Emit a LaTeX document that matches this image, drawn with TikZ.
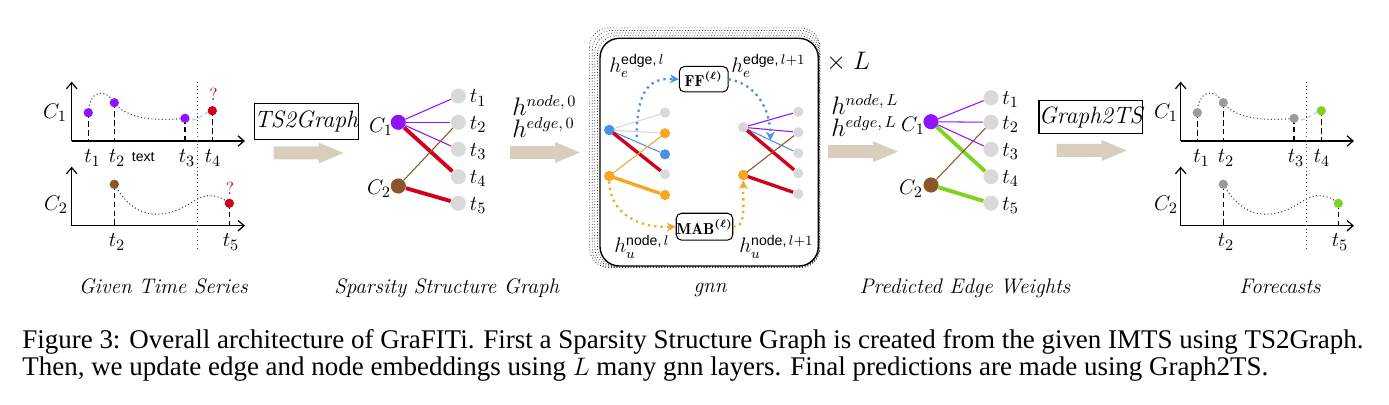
\documentclass[tikz,border=0pt]{standalone}
\usepackage{amsmath,amssymb}
\usepackage{fontspec}
\newfontfamily\capfont{Liberation Serif}
\newfontfamily\sansf{Liberation Sans}
\usetikzlibrary{arrows.meta,backgrounds}
\definecolor{cpurple}{HTML}{9013FE}
\definecolor{cbrown}{HTML}{8B572A}
\definecolor{cred}{HTML}{D0021B}
\definecolor{cgray}{HTML}{D9D9D9}
\definecolor{ctan}{HTML}{D8CEBE}
\definecolor{cgreen}{HTML}{7ED321}
\definecolor{cblue}{HTML}{4A90E2}
\definecolor{corange}{HTML}{F5A623}
\definecolor{cdark}{HTML}{9B9B9B}
\definecolor{clight}{HTML}{A9D8F2}
\definecolor{cedge}{HTML}{D6D6D6}
\tikzset{
  axisln/.style={line width=0.7pt,-{Straight Barb[length=3.5pt,width=6pt]}},
  vdash/.style={line width=0.8pt,dash pattern=on 3pt off 2pt},
  vdots/.style={line width=0.6pt,dash pattern=on 0.6pt off 1.6pt,black!70},
  tscurve/.style={line width=0.6pt,dash pattern=on 0.6pt off 1.4pt,black!75},
  tsdot/.style={circle,inner sep=0pt,minimum size=5.3pt},
  gdot/.style={circle,inner sep=0pt,minimum size=8.6pt},
  sdot/.style={circle,inner sep=0pt,minimum size=5.8pt},
  tl/.style={font=\fontsize{12.5}{14}\selectfont,inner sep=0pt},
  bcap/.style={font=\fontsize{12}{14}\selectfont\itshape,inner sep=0pt,anchor=base},
  ethin/.style={line width=0.6pt},
  ethick/.style={line width=2.2pt},
  gthick/.style={line width=1.9pt},
  tbox/.style={draw,line width=0.6pt,font=\fontsize{13.5}{15}\selectfont\itshape,inner sep=0pt,minimum height=20.4pt},
  mbox/.style={draw,line width=0.6pt,rounded corners=3pt,fill=white,inner sep=0pt,minimum width=27.8pt,minimum height=14.5pt,font=\fontsize{9}{10}\selectfont},
  flowb/.style={cblue,line width=1.3pt,dash pattern=on 1.3pt off 2.3pt,-{Stealth[length=5pt,width=5pt]}},
  flowo/.style={corange,line width=1.3pt,dash pattern=on 1.3pt off 2.3pt,-{Stealth[length=5pt,width=5pt]}},
  hl/.style={font=\fontsize{13.5}{15}\selectfont,inner sep=0pt,anchor=base west},
  gl/.style={font=\fontsize{12}{14}\selectfont,inner sep=0pt,anchor=base west},
  tanarr/.pic={\fill[ctan] (-35,-6.5) -- (10,-6.5) -- (10,-10.5) -- (35,0) -- (10,10.5) -- (10,6.5) -- (-35,6.5) -- cycle;}
}
\newcommand{\sfsup}[1]{\text{\sansf #1}}
\begin{document}
\begin{tikzpicture}[x=0.02cm,y=-0.02cm]
\useasboundingbox (0,0) rectangle (1389,405);

% ================= Panel 1: Given Time Series =================
\coordinate (o1) at (71.7,141);
\coordinate (o2) at (71.7,225.7);
\draw[axisln] (o1) -- (245,141);
\draw[axisln] (o1) -- (71.7,81.7);
\draw[axisln] (o2) -- (245,225.7);
\draw[axisln] (o2) -- (71.7,166.7);
\draw[vdots] (197.7,81.7) -- (197.7,251.7);
\node[tsdot,fill=cpurple] (p1) at (88.3,112.7) {};
\node[tsdot,fill=cpurple] (p2) at (114.3,102.7) {};
\node[tsdot,fill=cpurple] (p3) at (185,118.3) {};
\node[tsdot,fill=cred] (p4) at (212.3,110.7) {};
\node[tsdot,fill=cbrown] (q1) at (114.3,184.3) {};
\node[tsdot,fill=cred] (q2) at (229.3,203.3) {};
\begin{pgfonlayer}{background}
\draw[vdash] (p1.center) -- (p1 |- o1);
\draw[vdash] (p2.center) -- (p2 |- o1);
\draw[vdash] (p3.center) -- (p3 |- o1);
\draw[vdash] (p4.center) -- (p4 |- o1);
\draw[vdash] (q1.center) -- (q1 |- o2);
\draw[vdash] (q2.center) -- (q2 |- o2);
\draw[tscurve] (p1.center) .. controls (89,92) and (104,86) .. (p2.center) .. controls (126.7,120) and (160,121) .. (p3.center);
\draw[clight,line width=0.7pt,dash pattern=on 2.5pt off 1.5pt] (p3.center) .. controls (198,124) and (203,112) .. (p4.center);
\draw[tscurve] (q1.center) .. controls (128,208) and (145,218) .. (168,213) .. controls (188,209) and (200,192) .. (214,196) .. controls (222,198) .. (q2.center);
\end{pgfonlayer}
\node[tl] (c1a) at (55,113) {$C_1$};
\node[tl] (c2a) at (56,205) {$C_2$};
\node[tl] (t1a) at (92.5,158) {$t_1$};
\node[tl] (t2a) at (117,158) {$t_2$};
\node[tl,font=\sansf\fontsize{8}{9}\selectfont] (txa) at (143.3,157.5) {text};
\node[tl] (t3a) at (187,158) {$t_3$};
\node[tl] (t4a) at (213,158) {$t_4$};
\node[tl] (t2b) at (117,242) {$t_2$};
\node[tl] (t5b) at (231,242) {$t_5$};
\node[inner sep=0pt,text=cred,font=\fontsize{10}{11}\selectfont] (qa) at (213.5,94) {?};
\node[inner sep=0pt,text=cred,font=\fontsize{10}{11}\selectfont] (qb) at (230,188) {?};
\node[bcap] (cap1) at (163.3,294) {Given Time Series};

% ================= TS2Graph =================
\node[tbox,minimum width=59pt] (ts2g) at (306.2,121.3) {TS2Graph};
\pic at (308.5,153) {tanarr};

% ================= Panel 2: Sparsity Structure Graph =================
\node[gdot,fill=cpurple] (C1) at (398.3,122.3) {};
\node[gdot,fill=cbrown] (C2) at (398.3,186) {};
\foreach \i/\y in {1/96,2/122.3,3/149.3,4/176.7,5/203.3}{
  \node[gdot,fill=cgray] (s\i) at (458.3,\y) {};
  \node[tl,anchor=west] (sl\i) at (469.5,\y+2) {$t_{\i}$};
}
\begin{pgfonlayer}{background}
\draw[ethin,cpurple] (C1) -- (s1);
\draw[ethin,cpurple] (C1) -- (s2);
\draw[ethin,cpurple] (C1) -- (s3);
\draw[ethick,cred] (C1) -- (s4);
\draw[ethin,cbrown] (C2) -- (s2);
\draw[ethick,cred] (C2) -- (s5);
\end{pgfonlayer}
\node[tl] (C1l) at (381,127) {$C_1$};
\node[tl] (C2l) at (379,189) {$C_2$};
\node[bcap] (cap2) at (446.7,294) {Sparsity Structure Graph};
\node[hl] (h0a) at (512,116) {$h^{node,\,0}$};
\node[hl] (h0b) at (512,138) {$h^{edge,\,0}$};
\pic at (545,152.5) {tanarr};

% ================= Panel 3: gnn =================
\foreach \i in {4,3,2,1}{
  \draw[line width=0.4pt,black!80,dash pattern=on 0.5pt off 1.1pt] (600-2.6*\i,38.3-2.6*\i) [rounded corners=11pt] rectangle (818.3+0.4*\i,266+0.4*\i);
}
\draw[line width=0.8pt,fill=white,rounded corners=11pt] (600,38.3) rectangle (818.3,266);
% left graph
\node[sdot,fill=cblue] (L1) at (609.3,130) {};
\node[sdot,fill=corange] (L2) at (609.3,176) {};
\node[sdot,fill=cgray] (a1) at (665,112.7) {};
\node[sdot,fill=corange] (a2) at (665,133.3) {};
\node[sdot,fill=cblue] (a3) at (665,154.3) {};
\node[sdot,fill=cgray] (a4) at (665,174.3) {};
\node[sdot,fill=corange] (a5) at (665,195) {};
% right graph
\node[sdot,fill=cgray] (R1) at (743.3,127.3) {};
\node[sdot,fill=corange] (R2) at (743.3,175) {};
\node[sdot,fill=cgray] (b1) at (798.3,111.7) {};
\node[sdot,fill=cgray] (b2) at (798.3,132.3) {};
\node[sdot,fill=cgray] (b3) at (798.3,153.3) {};
\node[sdot,fill=cgray] (b4) at (798.3,173.3) {};
\node[sdot,fill=cgray] (b5) at (798.3,194) {};
\draw[ethin,cedge] (L1.center) -- (a1);
\draw[ethin,cedge] (L1.center) -- (a2);
\draw[ethin,cblue] (L1.center) -- (a3);
\draw[gthick,cred] (L1.center) -- (a4);
\draw[ethin,corange] (L2.center) -- (a2);
\draw[gthick,corange] (L2.center) -- (a5);
\draw[ethin,cpurple] (R1.center) -- (b1);
\draw[ethin,cpurple] (R1.center) -- (b2);
\draw[ethin,cblue] (R1.center) -- (b3);
\draw[gthick,cred] (R1.center) -- (b4);
\draw[ethin,cbrown] (R2.center) -- (b2);
\draw[gthick,cred] (R2.center) -- (b5);
\node[sdot,fill=cblue] (L1t) at (L1) {};
\node[sdot,fill=corange] (L2t) at (L2) {};
\node[sdot,fill=cgray] (R1t) at (R1) {};
\node[sdot,fill=corange] (R2t) at (R2) {};
% modules
\node[mbox] (FF) at (703.7,79.2) {$\mathbf{FF}^{\boldsymbol{(\ell)}}$};
\node[mbox,minimum height=15.3pt] (MAB) at (704.5,226.7) {$\mathbf{MAB}^{\boldsymbol{(\ell)}}$};
\coordinate (bs) at (636.7,137);
\coordinate (be) at (770.5,140.5);
\draw[flowb] (bs) .. controls (636.7,86) and (652,78) .. (FF.west);
\draw[flowb] (FF.east) .. controls (756,84) and (770,108) .. (be);
\draw[flowo] (L2.south) .. controls (610,216) and (642,228) .. (MAB.west);
\draw[flowo] (MAB.east) .. controls (745,227) and (743.3,214) .. (R2.south);
\node[gl] (hel) at (609,72.5) {$h_e^{\sfsup{edge,}\,l}$};
\node[gl] (her) at (731,72.5) {$h_e^{\sfsup{edge,}\,l+1}$};
\node[gl] (hul) at (614,253) {$h_u^{\sfsup{node,}\,l}$};
\node[gl] (hur) at (739,253) {$h_u^{\sfsup{node,}\,l+1}$};
\node[hl] (xL) at (826,70) {$\times\;L$};
\node[bcap] (cap3) at (710,292) {gnn};

% ================= Panel 4: Predicted Edge Weights =================
\node[hl] (hLa) at (831,115) {$h^{node,\,L}$};
\node[hl] (hLb) at (831,137) {$h^{edge,\,L}$};
\pic at (863,151.7) {tanarr};
\node[gdot,fill=cpurple] (D1) at (931,121.7) {};
\node[gdot,fill=cbrown] (D2) at (931,185) {};
\foreach \i/\y in {1/97.7,2/122.3,3/149.3,4/176.7,5/203.3}{
  \node[gdot,fill=cgray] (u\i) at (991,\y) {};
  \node[tl,anchor=west] (ul\i) at (1002,\y+2) {$t_{\i}$};
}
\begin{pgfonlayer}{background}
\draw[ethin,cpurple] (D1) -- (u1);
\draw[ethin,cpurple] (D1) -- (u2);
\draw[ethin,cpurple] (D1) -- (u3);
\draw[ethick,cgreen] (D1) -- (u4);
\draw[ethin,cbrown] (D2) -- (u2);
\draw[ethick,cgreen] (D2) -- (u5);
\end{pgfonlayer}
\node[tl] (D1l) at (913,126) {$C_1$};
\node[tl] (D2l) at (911,189) {$C_2$};
\node[bcap] (cap4) at (965,294) {Predicted Edge Weights};

% ================= Graph2TS =================
\node[tbox,minimum width=55.7pt,minimum height=18.5pt] (g2ts) at (1090.8,117) {Graph2TS};
\pic at (1091.7,150.5) {tanarr};

% ================= Panel 5: Forecasts =================
\begin{scope}[shift={(1109,0)}]
\coordinate (f1) at (71.7,141);
\coordinate (f2) at (71.7,225.7);
\draw[axisln] (f1) -- (245,141);
\draw[axisln] (f1) -- (71.7,81.7);
\draw[axisln] (f2) -- (245,225.7);
\draw[axisln] (f2) -- (71.7,166.7);
\draw[vdots] (197.7,81.7) -- (197.7,251.7);
\node[tsdot,fill=cdark] (r1) at (88.3,112.7) {};
\node[tsdot,fill=cdark] (r2) at (114.3,102.7) {};
\node[tsdot,fill=cdark] (r3) at (185,118.3) {};
\node[tsdot,fill=cgreen] (r4) at (212.3,110.7) {};
\node[tsdot,fill=cdark] (w1) at (114.3,184.3) {};
\node[tsdot,fill=cgreen] (w2) at (229.3,203.3) {};
\begin{pgfonlayer}{background}
\draw[vdash] (r1.center) -- (r1 |- f1);
\draw[vdash] (r2.center) -- (r2 |- f1);
\draw[vdash] (r3.center) -- (r3 |- f1);
\draw[vdash] (r4.center) -- (r4 |- f1);
\draw[vdash] (w1.center) -- (w1 |- f2);
\draw[vdash] (w2.center) -- (w2 |- f2);
\draw[tscurve] (r1.center) .. controls (89,92) and (104,86) .. (r2.center) .. controls (126.7,120) and (160,121) .. (r3.center);
\draw[clight,line width=0.7pt,dash pattern=on 2.5pt off 1.5pt] (r3.center) .. controls (198,124) and (203,112) .. (r4.center);
\draw[tscurve] (w1.center) .. controls (128,208) and (145,218) .. (168,213) .. controls (188,209) and (200,192) .. (214,196) .. controls (222,198) .. (w2.center);
\end{pgfonlayer}
\node[tl] (c1f) at (57,113) {$C_1$};
\node[tl] (c2f) at (57,205) {$C_2$};
\node[tl] (t1f) at (92.5,158) {$t_1$};
\node[tl] (t2f) at (117,158) {$t_2$};
\node[tl] (t3f) at (187,158) {$t_3$};
\node[tl] (t4f) at (213,158) {$t_4$};
\node[tl] (t2g) at (117,242) {$t_2$};
\node[tl] (t5g) at (231,242) {$t_5$};
\node[bcap] (cap5) at (171,294) {Forecasts};
\end{scope}

% ================= Caption =================
\node[inner sep=0pt,anchor=base west,font=\capfont\fontsize{15.35}{16}\selectfont] (capA) at (22,348) {Figure 3: Overall architecture of GraFITi. First a Sparsity Structure Graph is created from the given IMTS using TS2Graph.};
\node[inner sep=0pt,anchor=base west,font=\capfont\fontsize{15.35}{16}\selectfont] (capB) at (22,375) {Then, we update edge and node embeddings using $L$ many gnn layers. Final predictions are made using Graph2TS.};
\end{tikzpicture}
\end{document}
